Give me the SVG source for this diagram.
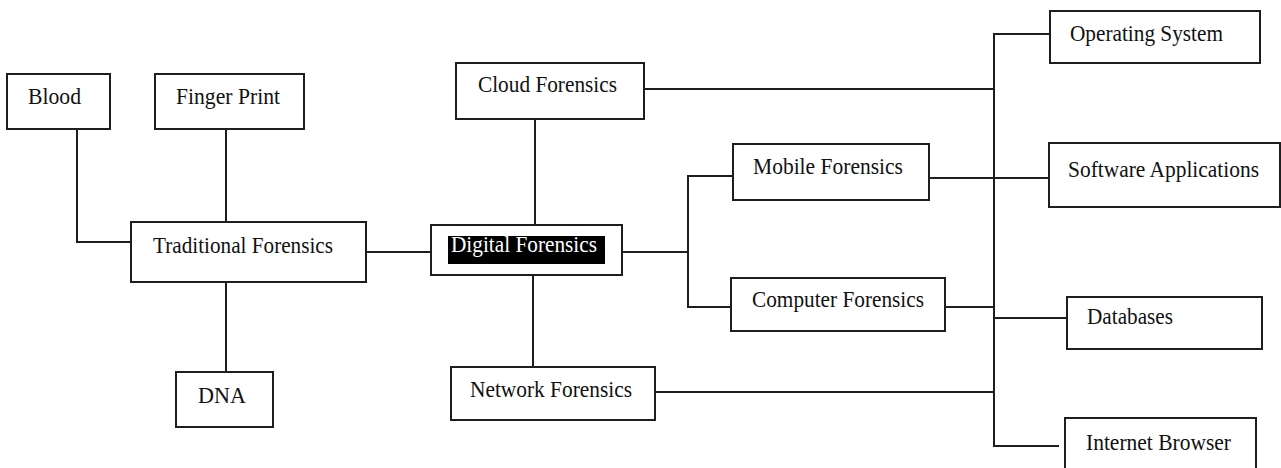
<svg xmlns="http://www.w3.org/2000/svg" width="1281" height="468" viewBox="0 0 1281 468">
<style>
.box{fill:#fff;stroke:#1e1e1e;stroke-width:2}
.ln{fill:none;stroke:#1e1e1e;stroke-width:2}
text{font-family:"Liberation Serif","Times New Roman",serif;font-size:24px;fill:#111}
.inv{fill:#fff}
</style>
<rect width="1281" height="468" fill="#fff"/>
<g id="connectors">
<path class="ln" d="M77,129 V242 H131"/>
<path class="ln" d="M226,129 V222"/>
<path class="ln" d="M226,282 V372"/>
<path class="ln" d="M366,252 H431"/>
<path class="ln" d="M535,119 V225"/>
<path class="ln" d="M533,275 V367"/>
<path class="ln" d="M622,252 H688"/>
<path class="ln" d="M733,176 H688 V307 H731"/>
<path class="ln" d="M644,89 H994"/>
<path class="ln" d="M929,178 H1049"/>
<path class="ln" d="M945,307 H994"/>
<path class="ln" d="M655,392 H994"/>
<path class="ln" d="M1050,34 H994 V446 H1059"/>
<path class="ln" d="M994,318 H1067"/>
</g>
<g id="blood"><rect class="box" x="7" y="74" width="103" height="55"/><text x="28" y="104" textLength="53" lengthAdjust="spacingAndGlyphs">Blood</text></g>
<g id="fingerprint"><rect class="box" x="155" y="74" width="149" height="55"/><text x="176" y="104" textLength="104" lengthAdjust="spacingAndGlyphs">Finger Print</text></g>
<g id="traditional"><rect class="box" x="131" y="222" width="235" height="60"/><text x="153" y="253" textLength="180" lengthAdjust="spacingAndGlyphs">Traditional Forensics</text></g>
<g id="dna"><rect class="box" x="176" y="372" width="97" height="55"/><text x="198" y="403" textLength="48" lengthAdjust="spacingAndGlyphs">DNA</text></g>
<g id="cloud"><rect class="box" x="456" y="63" width="188" height="56"/><text x="478" y="92" textLength="139" lengthAdjust="spacingAndGlyphs">Cloud Forensics</text></g>
<g id="digital"><rect class="box" x="431" y="225" width="191" height="50"/><rect x="448" y="236" width="157" height="28" fill="#000"/><text class="inv" x="451" y="252" textLength="146" lengthAdjust="spacingAndGlyphs">Digital Forensics</text></g>
<g id="network"><rect class="box" x="451" y="367" width="204" height="53"/><text x="470" y="397" textLength="162" lengthAdjust="spacingAndGlyphs">Network Forensics</text></g>
<g id="mobile"><rect class="box" x="733" y="144" width="196" height="56"/><text x="753" y="174" textLength="150" lengthAdjust="spacingAndGlyphs">Mobile Forensics</text></g>
<g id="computer"><rect class="box" x="731" y="278" width="214" height="53"/><text x="752" y="307" textLength="172" lengthAdjust="spacingAndGlyphs">Computer Forensics</text></g>
<g id="os"><rect class="box" x="1050" y="11" width="210" height="52"/><text x="1070" y="41" textLength="153" lengthAdjust="spacingAndGlyphs">Operating System</text></g>
<g id="software"><rect class="box" x="1049" y="143" width="231" height="64"/><text x="1068" y="177" textLength="191" lengthAdjust="spacingAndGlyphs">Software Applications</text></g>
<g id="databases"><rect class="box" x="1067" y="297" width="195" height="52"/><text x="1087" y="324" textLength="86" lengthAdjust="spacingAndGlyphs">Databases</text></g>
<g id="browser"><rect class="box" x="1065" y="418" width="191" height="60"/><text x="1086" y="450" textLength="145" lengthAdjust="spacingAndGlyphs">Internet Browser</text></g>
</svg>
